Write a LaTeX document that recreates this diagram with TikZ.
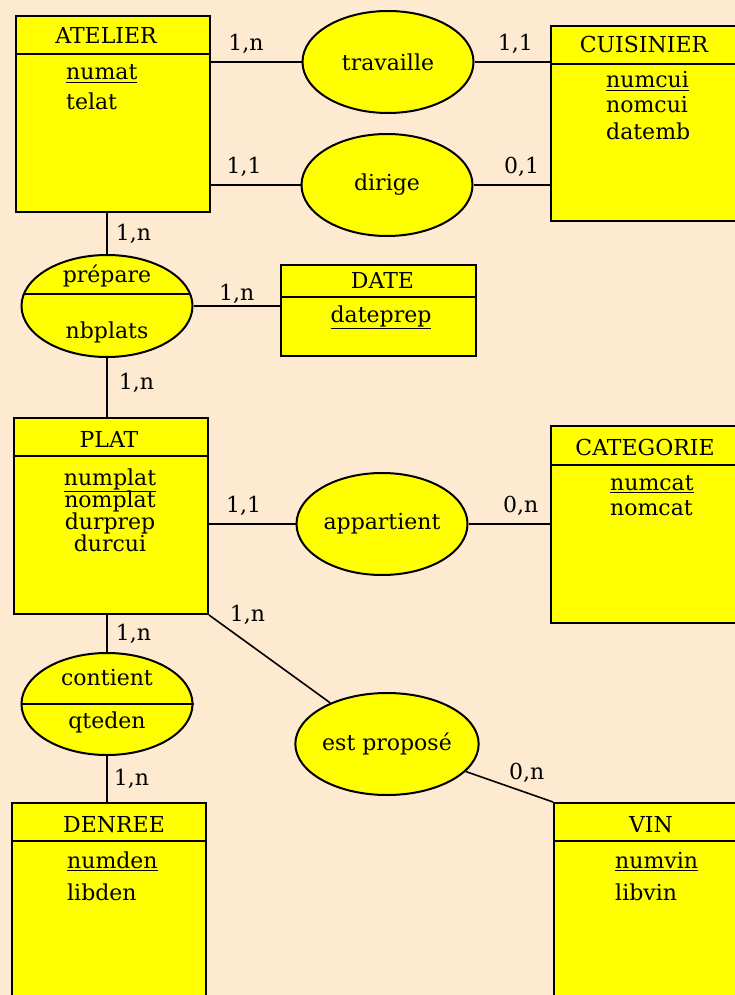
\documentclass[tikz,border=0pt]{standalone}
\usepackage{fontspec}
\setmainfont{DejaVu Serif}
\usetikzlibrary{shapes.geometric,positioning,calc}
\definecolor{fond}{RGB}{253,234,208}
\definecolor{jaune}{RGB}{255,255,0}

\begin{document}
\begin{tikzpicture}[x = 1pt, y = -1pt,
     every node/.style = {font = \fontsize{22}{26}\selectfont, inner sep = 0pt}]
     \tikzset{entite/.style = {draw,
                               fill       = jaune,
                               line width = 2pt,
                               anchor     = north west,
                               minimum width = 194pt},
              assoc/.style  = {ellipse, draw,
                               fill       = jaune,
                               line width = 2pt,
                               minimum width  = 171pt,
                               minimum height = 102pt},
              titre/.style  = {anchor = base},
              attr/.style   = {align = left, anchor = base west},
              lien/.style   = {line width = 1.6pt}}
     \useasboundingbox (0,0) rectangle (735,995);
     \clip (0,0) rectangle (735,995);
     \fill[fond] (0,0) rectangle (735,995);
     % les entites
     \node[entite, minimum height = 196pt] (atelier)   at (15,15)  {};
     \node[entite, minimum height = 195pt] (cuisinier) at (550,25) {};
     \node[entite, minimum width = 195pt,
                   minimum height = 91pt]  (date)      at (280,264) {};
     \node[entite, minimum height = 196pt] (plat)      at (13,417) {};
     \node[entite, minimum height = 197pt] (categorie) at (550,425) {};
     \node[entite, minimum height = 220pt] (denree)    at (11,802) {};
     \node[entite, minimum height = 220pt] (vin)       at (553,802) {};
     \foreach \e/\h in {atelier/39, cuisinier/39, date/33, plat/39,
                        categorie/40, denree/39, vin/39}
        \draw[line width = 2pt] ($(\e.north west)+(0,\h)$) -- ($(\e.north east)+(0,\h)$);
     \node[titre] (atelier-titre)   at ($(atelier.north)+(-7,29)$)   {ATELIER};
     \node[titre] (cuisinier-titre) at ($(cuisinier.north)+(-4,28)$) {CUISINIER};
     \node[titre] (date-titre)      at ($(date.north)+(4,24)$)       {DATE};
     \node[titre] (plat-titre)      at ($(plat.north)+(-2,30)$)      {PLAT};
     \node[titre] (categorie-titre) at ($(categorie.north)+(-3,30)$) {CATEGORIE};
     \node[titre] (denree-titre)    at ($(denree.north)+(5,30)$)     {DENREE};
     \node[titre] (vin-titre)       at ($(vin.north)+(0,30)$)        {VIN};
     % la base d'un texte sur plusieurs lignes est celle de sa derniere ligne
     \node[attr] (atelier-attr)   at (66,110)  {\underline{numat}\\[4pt]telat};
     \node[attr] (cuisinier-attr) at (606,140) {\underline{numcui}\\[-1pt]nomcui\\[1pt]datemb};
     \node[titre] (date-attr)     at (381,322) {\underline{dateprep}};
     \node[align = center, anchor = base] (plat-attr) at (110,551)
                                  {\underline{numplat}\\[-4pt]nomplat\\[-4pt]durprep\\[-4pt]durcui};
     \node[attr] (categorie-attr) at (610,515) {\underline{numcat}\\[-1pt]nomcat};
     \node[attr] (denree-attr)    at (67,900)  {\underline{numden}\\[6pt]libden};
     \node[attr] (vin-attr)       at (615,900) {\underline{numvin}\\[6pt]libvin};
     % les associations
     \node[assoc] (travaille)  at (388,62)  {travaille};
     \node[assoc] (dirige)     at (387,185) {dirige};
     \node[assoc] (prepare)    at (107,306) {};
     \node[assoc] (appartient) at (382,524) {appartient};
     \node[assoc] (contient)   at (107,704) {};
     \node[assoc] (propose)    at (387,744) {est proposé};
     \draw[line width = 2pt] ($(prepare)+(-83,-12)$) -- ($(prepare)+(83,-12)$);
     \draw[line width = 2pt] (contient.west) -- (contient.east);
     \node[titre] (prepare-nom)    at ($(prepare)+(0,-24)$)  {prépare};
     \node[titre] (prepare-attr)   at ($(prepare)+(0,32)$)   {nbplats};
     \node[titre] (contient-nom)   at ($(contient)+(0,-19)$) {contient};
     \node[titre] (contient-attr)  at ($(contient)+(0,24)$)  {qteden};
     % les liens
     \draw[lien] (atelier.east |- travaille) -- (travaille)
           node[pos = .385, above = 8pt] {1,n};
     \draw[lien] (travaille) -- (travaille -| cuisinier.west)
           node[pos = .54, above = 8pt] {1,1};
     \draw[lien] (atelier.east |- dirige) -- (dirige)
           node[pos = .37, above = 8pt] {1,1};
     \draw[lien] (dirige) -- (dirige -| cuisinier.west)
           node[pos = .63, above = 8pt] {0,1};
     \draw[lien] (atelier.south -| prepare) -- (prepare)
           node[midway, right = 8pt] {1,n};
     \draw[lien] (prepare) -- (prepare -| date.west)
           node[pos = .5, above = 2pt] {1,n};
     \draw[lien] (prepare) -- (plat.north -| prepare)
           node[pos = .42, right = 11pt] {1,n};
     \draw[lien] (plat.east |- appartient) -- (appartient)
           node[pos = .4, above = 8pt] {1,1};
     \draw[lien] (appartient) -- (appartient -| categorie.west)
           node[pos = .64, above = 8pt] {0,n};
     \draw[lien] (plat.south -| contient) -- (contient)
           node[midway, right = 8pt] {1,n};
     \draw[lien] (contient) -- (contient |- denree.north)
           node[midway, right = 6pt] {1,n};
     \draw[lien] (plat.south east) -- (propose)
           node[pos = 0, right = 20pt] {1,n};
     \draw[lien] (propose) -- (vin.north west)
           node[pos = .7, above = 10pt] {0,n};
\end{tikzpicture}
\end{document}
